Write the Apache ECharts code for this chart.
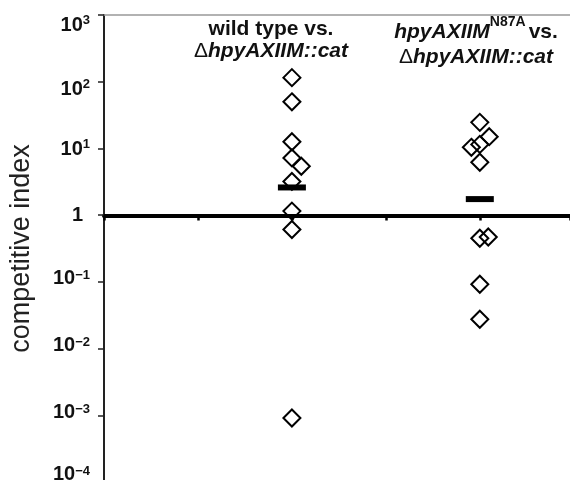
<!DOCTYPE html>
<html>
<head>
<meta charset="utf-8">
<script src="https://cdn.jsdelivr.net/npm/echarts@6/dist/echarts.min.js"></script>
<style>
html,body{margin:0;padding:0;background:#fff;}
#chart{width:570px;height:480px;}
</style>
</head>
<body>
<div id="chart"></div>
<script>
// ---- data ----
const categoryX = [2, 4];
const wtValues  = [115, 50, 12.6, 7.2, 5.4, 3.2, 1.15, 0.61, 0.00091];
const wtJitter  = [0, 0, 0, 0, 0.1, 0, 0, 0, 0];
const mutValues = [24.6, 15.0, 11.5, 10.4, 6.2, 0.45, 0.47, 0.092, 0.0275];
const mutJitter = [0, 0.1, 0, -0.09, 0, 0, 0.09, 0, 0];
const meanValues = [2.6, 1.74];
const yTickExponents = [-4, -3, -2, -1, 0, 1, 2, 3];
const yAxisTitle = 'competitive index';

// ---- styling helpers ----
const FONT = "'Liberation Sans', Arial, Helvetica, sans-serif";
const labelNudge = {3: 10.5, 2: 8, 1: 1, 0: 0, '-1': -3.5, '-2': -3, '-3': -2.5, '-4': -8};

const richLabel = {
  b:   {fontSize: 20, fontWeight: 'bold', fontFamily: FONT, color: '#111', lineHeight: 24},
  one: {fontSize: 20, fontWeight: 'bold', fontFamily: FONT, color: '#111', lineHeight: 24, padding: [0, 7, 0, 0]},
  sp:  {fontSize: 13, fontWeight: 'bold', fontFamily: FONT, color: '#111', lineHeight: 14, height: 14, verticalAlign: 'top'},
  sn:  {fontSize: 13, fontWeight: 'bold', fontFamily: FONT, color: '#111', lineHeight: 18, height: 18, verticalAlign: 'top'}
};
Object.keys(labelNudge).forEach(function (k) {
  const n = Math.abs(labelNudge[k]);
  if (n > 0) richLabel['g' + Math.round(n * 2)] = {fontSize: 1, lineHeight: n * 2};
});

function yLabel(value) {
  const e = Math.round(Math.log10(value));
  if (yTickExponents.indexOf(e) < 0) return '';
  let body;
  if (e === 0) body = '{one|1}';
  else body = '{b|10}{' + (e > 0 ? 'sp' : 'sn') + '|' + (e < 0 ? '\u2212' : '') + Math.abs(e) + '}';
  const n = labelNudge[e] || 0;
  const g = '{g' + Math.round(Math.abs(n) * 2) + '| }';
  if (n > 0) return g + '\n' + body;
  if (n < 0) return body + '\n' + g;
  return body;
}

const diamondStyle = {color: 'rgba(0,0,0,0)', borderColor: '#000', borderWidth: 2, opacity: 1};

const chart = echarts.init(document.getElementById('chart'), null, {renderer: 'canvas'});
chart.setOption({
  animation: false,
  backgroundColor: '#fff',
  grid: {left: 104, right: 0, top: 15, height: 467, containLabel: false, outerBoundsMode: 'none'},
  xAxis: [
    {
      type: 'value', min: 0, max: 4.96, interval: 1, position: 'bottom', offset: -266.5,
      axisLine: {show: true, lineStyle: {color: '#000', width: 4}},
      axisTick: {show: true, inside: false, length: 5, lineStyle: {color: '#000', width: 2.5}},
      axisLabel: {show: false}, splitLine: {show: false}
    },
    {
      type: 'value', min: 0, max: 4.96, position: 'top',
      axisLine: {show: true, lineStyle: {color: '#999', width: 1.5}},
      axisTick: {show: false}, axisLabel: {show: false}, splitLine: {show: false}
    }
  ],
  yAxis: {
    type: 'log', logBase: 10, min: 0.0001, max: 1000, interval: 1,
    name: yAxisTitle, nameLocation: 'middle', nameGap: 69, nameRotate: 90,
    nameTextStyle: {fontSize: 27, fontFamily: FONT, color: '#222', fontWeight: 'normal'},
    axisLine: {show: true, lineStyle: {color: '#222', width: 2}},
    axisTick: {show: true, inside: false, length: 6, lineStyle: {color: '#222', width: 1.5}},
    minorTick: {show: false},
    splitLine: {show: false},
    axisLabel: {show: true, margin: 14, formatter: yLabel, rich: richLabel, showMinLabel: true, showMaxLabel: true}
  },
  graphic: [
    {
      type: 'text', x: 271, y: 18.5, z: 10,
      style: {
        text: '{b|wild type vs.}\n{d|\u0394}{bi|hpyAXIIM::cat}',
        align: 'center', verticalAlign: 'top',
        rich: {
          b:  {fontSize: 21, fontWeight: 'bold', fontFamily: FONT, fill: '#111', lineHeight: 22},
          bi: {fontSize: 21, fontWeight: 'bold', fontStyle: 'italic', fontFamily: FONT, fill: '#111', lineHeight: 22},
          d:  {fontSize: 21, fontWeight: 'normal', fontFamily: FONT, fill: '#111', lineHeight: 22}
        }
      }
    },
    {
      type: 'text', x: 476, y: 17, z: 10,
      style: {
        text: '{b1i|hpyAXIIM}{sup|N87A}{gap| }{b1|vs.}\n{d|\u0394}{bi|hpyAXIIM::cat}',
        align: 'center', verticalAlign: 'top',
        rich: {
          b1:  {fontSize: 21, fontWeight: 'bold', fontFamily: FONT, fill: '#111', lineHeight: 29.5},
          b1i: {fontSize: 21, fontWeight: 'bold', fontStyle: 'italic', fontFamily: FONT, fill: '#111', lineHeight: 29.5},
          gap: {fontSize: 11, fontFamily: FONT, lineHeight: 10},
          sup: {fontSize: 14, fontWeight: 'bold', fontFamily: FONT, fill: '#111', lineHeight: 11, height: 11, verticalAlign: 'top'},
          bi:  {fontSize: 21, fontWeight: 'bold', fontStyle: 'italic', fontFamily: FONT, fill: '#111', lineHeight: 21},
          d:   {fontSize: 21, fontWeight: 'normal', fontFamily: FONT, fill: '#111', lineHeight: 21}
        }
      }
    }
  ],
  series: [
    {
      name: 'wild type', type: 'scatter', xAxisIndex: 0,
      symbol: 'diamond', symbolSize: 17, itemStyle: diamondStyle, z: 2,
      emphasis: {disabled: true},
      data: wtValues.map(function (v, i) { return [categoryX[0] + wtJitter[i], v]; })
    },
    {
      name: 'N87A', type: 'scatter', xAxisIndex: 0,
      symbol: 'diamond', symbolSize: 17, itemStyle: diamondStyle, z: 2,
      emphasis: {disabled: true},
      data: mutValues.map(function (v, i) { return [categoryX[1] + mutJitter[i], v]; })
    },
    {
      name: 'mean', type: 'scatter', xAxisIndex: 0,
      symbol: 'rect', symbolSize: [28, 6], itemStyle: {color: '#000', opacity: 1}, z: 3,
      emphasis: {disabled: true},
      data: meanValues.map(function (v, i) { return [categoryX[i], v]; })
    }
  ]
});
</script>
</body>
</html>
